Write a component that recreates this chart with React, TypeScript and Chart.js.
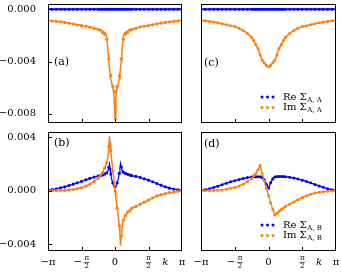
import React, { useEffect, useRef } from "react";
import { Chart, registerables } from "chart.js";
Chart.register(...registerables);

const PI = Math.PI;
const FONT = "'DejaVu Serif', serif";
const BLUE = "#0000ff";
const ORANGE = "#ff7f0e";

// ---------- grids ----------
const kLine = [-3.1416,-2.75,-2.36,-1.96,-1.57,-1.18,-0.98,-0.79,-0.69,-0.59,-0.49,-0.44,-0.39,-0.35,-0.32,-0.29,-0.26,-0.23,-0.2,-0.16,-0.12,-0.08,-0.04,
  0,
  0.04,0.08,0.12,0.16,0.2,0.23,0.26,0.29,0.32,0.35,0.39,0.44,0.49,0.59,0.69,0.79,0.98,1.18,1.57,1.96,2.36,2.75,3.1416];

const kPts = [-3.1416,-2.95,-2.75,-2.55,-2.36,-2.16,-1.96,-1.77,-1.57,-1.37,-1.18,-0.98,-0.79,-0.69,-0.59,-0.49,-0.39,-0.29,-0.2,-0.1,
  0,
  0.1,0.2,0.29,0.39,0.49,0.59,0.69,0.79,0.98,1.18,1.37,1.57,1.77,1.96,2.16,2.36,2.55,2.75,2.95,3.1416];

// ---------- panel (a): Sigma_AA, method 1 ----------
const reA = [0,0,0,0,0,0,0,0,0,0,0,0,0,0,0,0,0,0,0,0,0,0,0,0,0,0,0,0,0,0,0,0,0,0,0,0,0,0,0,0,0];
const imA_line = [-0.00085,-0.00092,-0.00100,-0.00112,-0.00123,-0.00135,-0.00143,-0.00153,-0.00158,-0.00166,-0.00176,-0.00185,-0.0021,-0.0028,-0.0034,-0.0040,-0.0045,-0.0049,-0.0053,-0.0056,-0.0059,-0.0062,-0.0068,
  -0.0084,
  -0.0068,-0.0062,-0.0059,-0.0056,-0.0053,-0.0049,-0.0045,-0.0040,-0.0034,-0.0028,-0.0021,-0.00185,-0.00176,-0.00166,-0.00158,-0.00153,-0.00143,-0.00135,-0.00123,-0.00112,-0.00100,-0.00092,-0.00085];
const imA_dot = [-0.00088,-0.0009,-0.00094,-0.00097,-0.00103,-0.00108,-0.00113,-0.00121,-0.00128,-0.0013,-0.00137,-0.00149,-0.00155,-0.0016,-0.0018,-0.0019,-0.0023,-0.0038,-0.0051,-0.0059,
  -0.0063,
  -0.0059,-0.0051,-0.0038,-0.0023,-0.0019,-0.0018,-0.0016,-0.00155,-0.00147,-0.00136,-0.0013,-0.00127,-0.00119,-0.00112,-0.00107,-0.00102,-0.00097,-0.00093,-0.0009,-0.00087];

// ---------- panel (b): Sigma_AB, method 1 ----------
const reB_line = [0.00003,0.00015,0.0003,0.0005,0.0007,0.00093,0.00103,0.0011,0.00113,0.00118,0.00125,0.0013,0.00135,0.00142,0.00155,0.00175,0.0020,0.0017,0.00125,0.0009,0.00065,0.00045,0.00033,
  0.0003,
  0.00035,0.0005,0.0007,0.00095,0.0013,0.0017,0.00205,0.0018,0.0016,0.00148,0.0014,0.00135,0.0013,0.00124,0.00118,0.00113,0.00108,0.001,0.0008,0.00055,0.0003,0.00013,0.00003];
const imB_line = [0.0,0.00002,0.00004,0.0001,0.00023,0.0005,0.0007,0.00095,0.0011,0.00135,0.0017,0.0019,0.0021,0.0024,0.0028,0.0033,0.0041,0.0036,0.003,0.0024,0.0018,0.0012,0.0006,
  0.0,
  -0.0005,-0.001,-0.0015,-0.002,-0.0026,-0.0032,-0.0041,-0.0034,-0.0029,-0.0025,-0.0022,-0.002,-0.00185,-0.0016,-0.0015,-0.0013,-0.00118,-0.001,-0.0007,-0.00038,-0.0002,-0.00008,0.0];
const reB_dot = [0.00003,0.0001,0.00015,0.00022,0.0003,0.0004,0.0005,0.0006,0.0007,0.00083,0.00093,0.00103,0.0011,0.00113,0.00118,0.00125,0.00135,0.00175,0.00125,0.0006,
  0.0003,
  0.0006,0.0013,0.0018,0.0014,0.0013,0.00124,0.00118,0.00113,0.00108,0.001,0.0009,0.0008,0.00068,0.00055,0.00042,0.0003,0.0002,0.00013,0.00007,0.00003];
const imB_dot = [0.0,0.00001,0.00002,0.00003,0.00004,0.00007,0.0001,0.00015,0.00023,0.00035,0.0005,0.0007,0.00095,0.0011,0.00135,0.0017,0.0021,0.0033,0.003,0.0015,
  0.0,
  -0.0013,-0.0026,-0.0034,-0.0022,-0.00185,-0.0016,-0.0015,-0.0013,-0.00118,-0.001,-0.00085,-0.0007,-0.00052,-0.00038,-0.00028,-0.0002,-0.00013,-0.00008,-0.00004,0.0];

// ---------- panel (c): Sigma_AA, method 2 ----------
const reC = [0,0,0,0,0,0,0,0,0,0,0,0,0,0,0,0,0,0,0,0,0,0,0,0,0,0,0,0,0,0,0,0,0,0,0,0,0,0,0,0,0];
const imC = [-0.00085,-0.00089,-0.00093,-0.00098,-0.00104,-0.00111,-0.00118,-0.00127,-0.00132,-0.00146,-0.00162,-0.00185,-0.00215,-0.0024,-0.0027,-0.003,-0.0035,-0.0039,-0.0041,-0.0043,
  -0.0044,
  -0.0043,-0.0041,-0.0039,-0.0035,-0.003,-0.0027,-0.0024,-0.00215,-0.00185,-0.00162,-0.00146,-0.00132,-0.00127,-0.00118,-0.00111,-0.00104,-0.00098,-0.00093,-0.00089,-0.00085];

// ---------- panel (d): Sigma_AB, method 2 ----------
const reD = [0.00003,0.00009,0.00016,0.00025,0.00035,0.00046,0.00057,0.00067,0.00076,0.00085,0.00092,0.00099,0.00103,0.00105,0.00106,0.00106,0.00105,0.001,0.00085,0.0005,
  0.0002,
  0.0006,0.0009,0.00103,0.00107,0.00108,0.00108,0.00107,0.00106,0.00102,0.00096,0.00089,0.0008,0.0007,0.0006,0.00048,0.00037,0.00026,0.00016,0.00008,0.00003];
const imD = [0.0,0.00001,0.00002,0.00003,0.00005,0.00007,0.00011,0.00017,0.00025,0.00037,0.0005,0.00068,0.0009,0.00112,0.0013,0.00158,0.0019,0.00125,0.00075,0.0002,
  -0.00035,
  -0.0009,-0.0014,-0.0018,-0.0017,-0.00155,-0.0014,-0.00128,-0.00117,-0.001,-0.00083,-0.00066,-0.0005,-0.00037,-0.00026,-0.00017,-0.0001,-0.00006,-0.00003,-0.00001,0.0];

// ---------- axes ----------
const xTickVals = [-PI / 2, 0, PI / 2];
const xLabelVals = [-PI, -PI / 2, 0, PI / 2, PI];
const xLabelText = ["−π", "−π/2", "0", "π/2", "π"];
const xAxisTitle = "k";
const xAxisTitleAt = (3 * PI) / 4;
const yTicksTop = [0, -0.004, -0.008];
const yTicksBottom = [0.004, 0, -0.004];
const yRangeTop = [-0.0087, 0.0004];
const yRangeBottom = [-0.0045, 0.0044];
const legendAA = [{ color: BLUE, main: "Re Σ", sub: "A, A" }, { color: ORANGE, main: "Im Σ", sub: "A, A" }];
const legendAB = [{ color: BLUE, main: "Re Σ", sub: "A, B" }, { color: ORANGE, main: "Im Σ", sub: "A, B" }];

const W = 341, H = 273;

const xy = (xs: number[], ys: number[]) => xs.map((x, i) => ({ x, y: ys[i] }));

function lineDots(xs: number[], ys: number[], color: string, w = 1.2) {
  return { data: xy(xs, ys), borderColor: color, backgroundColor: color, borderWidth: w, pointRadius: 1.5, pointBorderWidth: 0, showLine: true };
}
function lineOnly(xs: number[], ys: number[], color: string, w = 1.5) {
  return { data: xy(xs, ys), borderColor: color, backgroundColor: color, borderWidth: w, pointRadius: 0, showLine: true };
}
function dotsOnly(xs: number[], ys: number[], color: string) {
  return { data: xy(xs, ys), borderColor: color, backgroundColor: color, borderWidth: 0, pointRadius: 1.6, pointBorderWidth: 0, showLine: false };
}

function drawLabel(ctx: CanvasRenderingContext2D, label: string, x: number, y: number) {
  ctx.fillStyle = "#000";
  ctx.textBaseline = "middle";
  if (label.includes("/")) {
    const neg = label.startsWith("−");
    const [num, den] = label.replace("−", "").split("/");
    ctx.font = `7px ${FONT}`;
    const fw = Math.max(ctx.measureText(num).width, ctx.measureText(den).width) + 1;
    let cx = x;
    if (neg) {
      ctx.font = `10px ${FONT}`;
      const mw = ctx.measureText("−").width;
      const total = mw + 2 + fw;
      const start = x - total / 2;
      ctx.textAlign = "left";
      ctx.fillText("−", start, y);
      cx = start + mw + 2 + fw / 2;
    }
    ctx.font = `7px ${FONT}`;
    ctx.textAlign = "center";
    ctx.fillText(num, cx, y - 4);
    ctx.fillText(den, cx, y + 4.5);
    ctx.strokeStyle = "#000";
    ctx.lineWidth = 0.6;
    ctx.beginPath();
    ctx.moveTo(cx - fw / 2, y + 0.5);
    ctx.lineTo(cx + fw / 2, y + 0.5);
    ctx.stroke();
  } else {
    ctx.font = `10px ${FONT}`;
    ctx.textAlign = "center";
    ctx.fillText(label, x, y);
  }
}

const decorPlugin = {
  id: "decor",
  afterDatasetsDraw(chart: any, _args: any, opts: any) {
    const { ctx, chartArea: a, scales } = chart;
    ctx.save();
    ctx.strokeStyle = "#000";
    ctx.lineWidth = 1;
    ctx.strokeRect(a.left + 0.5, a.top + 0.5, a.right - a.left - 1, a.bottom - a.top - 1);
    ctx.beginPath();
    for (const v of xTickVals) {
      const x = Math.round(scales.x.getPixelForValue(v)) + 0.5;
      ctx.moveTo(x, a.bottom);
      ctx.lineTo(x, a.bottom - 4);
    }
    if (opts.yTickMarks) {
      for (const v of opts.yTicks) {
        const y = Math.round(scales.y.getPixelForValue(v)) + 0.5;
        ctx.moveTo(a.left, y);
        ctx.lineTo(a.left + 4, y);
      }
    }
    ctx.stroke();

    // panel tag
    ctx.fillStyle = "#000";
    ctx.font = `11px ${FONT}`;
    ctx.textAlign = "left";
    ctx.textBaseline = "middle";
    ctx.fillText(opts.tag, a.left + opts.tagDx, a.top + opts.tagDy);

    // x labels
    if (opts.xLabels) {
      const y = a.bottom + 11;
      xLabelVals.forEach((v, i) => drawLabel(ctx, xLabelText[i], scales.x.getPixelForValue(v), y));
      ctx.font = `italic 10px ${FONT}`;
      ctx.textAlign = "center";
      ctx.textBaseline = "middle";
      ctx.fillText(xAxisTitle, scales.x.getPixelForValue(xAxisTitleAt), y);
    }

    // legend
    if (opts.legend) {
      opts.legend.forEach((row: any, i: number) => {
        const y = a.bottom - 26 + i * 10.5;
        const x0 = a.right - 74;
        ctx.fillStyle = row.color;
        for (let j = 0; j < 3; j++) {
          ctx.beginPath();
          ctx.arc(x0 + j * 5.5, y, 1.5, 0, 2 * Math.PI);
          ctx.fill();
        }
        ctx.fillStyle = "#000";
        ctx.textAlign = "left";
        ctx.font = `10px ${FONT}`;
        const tx = a.right - 53;
        ctx.fillText(row.main, tx, y);
        const mw = ctx.measureText(row.main).width;
        ctx.font = `7px ${FONT}`;
        ctx.fillText(row.sub, tx + mw + 0.5, y + 3);
      });
    }
    ctx.restore();
  },
};

type Panel = {
  rect: [number, number, number, number];
  yRange: number[];
  yTicks: number[];
  yLabels: boolean;
  xLabels: boolean;
  tag: string;
  tagDx: number;
  tagDy: number;
  legend?: any[];
  datasets: any[];
};

const panels: Panel[] = [
  {
    rect: [48, 4, 182, 123], yRange: yRangeTop, yTicks: yTicksTop, yLabels: true, xLabels: false,
    tag: "(a)", tagDx: 6, tagDy: 58,
    datasets: [lineOnly(kLine, imA_line, ORANGE), dotsOnly(kPts, imA_dot, ORANGE), lineDots(kPts, reA, BLUE, 2.2)],
  },
  {
    rect: [201, 4, 336, 123], yRange: yRangeTop, yTicks: yTicksTop, yLabels: false, xLabels: false,
    tag: "(c)", tagDx: 3, tagDy: 59, legend: legendAA,
    datasets: [lineDots(kPts, imC, ORANGE, 1.6), lineDots(kPts, reC, BLUE, 2.2)],
  },
  {
    rect: [48, 132, 182, 251], yRange: yRangeBottom, yTicks: yTicksBottom, yLabels: true, xLabels: true,
    tag: "(b)", tagDx: 6, tagDy: 11,
    datasets: [lineOnly(kLine, imB_line, ORANGE), dotsOnly(kPts, imB_dot, ORANGE), lineOnly(kLine, reB_line, BLUE, 1.2), dotsOnly(kPts, reB_dot, BLUE)],
  },
  {
    rect: [201, 132, 336, 251], yRange: yRangeBottom, yTicks: yTicksBottom, yLabels: false, xLabels: true,
    tag: "(d)", tagDx: 3, tagDy: 12, legend: legendAB,
    datasets: [lineDots(kPts, imD, ORANGE, 1.4), lineDots(kPts, reD, BLUE, 1.4)],
  },
];

function PanelChart({ p }: { p: Panel }) {
  const ref = useRef<HTMLCanvasElement>(null);
  useEffect(() => {
    const [l, t, r, b] = p.rect;
    const chart = new Chart(ref.current!, {
      type: "line",
      data: { datasets: p.datasets },
      plugins: [decorPlugin],
      options: {
        animation: false,
        responsive: false,
        devicePixelRatio: 1,
        layout: { padding: { left: p.yLabels ? 0 : l, top: t, right: W - r, bottom: H - b } },
        plugins: {
          legend: { display: false },
          tooltip: { enabled: false },
          decor: { tag: p.tag, tagDx: p.tagDx, tagDy: p.tagDy, legend: p.legend, xLabels: p.xLabels, yTicks: p.yTicks, yTickMarks: p.yLabels },
        } as any,
        scales: {
          x: {
            type: "linear", min: -PI, max: PI, display: false,
          },
          y: {
            type: "linear", min: p.yRange[0], max: p.yRange[1], display: p.yLabels,
            grid: { display: false }, border: { display: false },
            afterBuildTicks: (s: any) => { s.ticks = p.yTicks.map((v) => ({ value: v })); },
            afterFit: (s: any) => { s.width = p.yLabels ? l : 0; s.paddingTop = 0; s.paddingBottom = 0; s.paddingLeft = 0; s.paddingRight = 0; },
            ticks: {
              padding: 4, color: "#000", font: { family: FONT, size: 10 },
              callback: (v: any) => (Number(v) < 0 ? "−" : "") + Math.abs(Number(v)).toFixed(3),
            },
          },
        },
      } as any,
    });
    return () => chart.destroy();
  }, [p]);
  return <canvas ref={ref} width={W} height={H} style={{ position: "absolute", left: 0, top: 0, width: W, height: H }} />;
}

export default function App() {
  return (
    <div style={{ position: "absolute", left: 0, top: 0, width: W, height: H, background: "#fff" }}>
      {panels.map((p, i) => <PanelChart key={i} p={p} />)}
    </div>
  );
}
